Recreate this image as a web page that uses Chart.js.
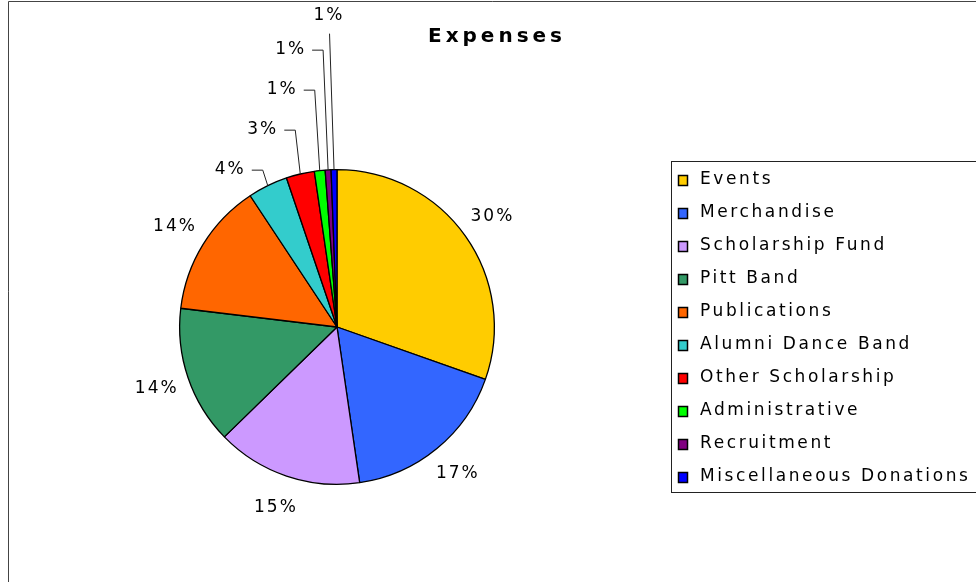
<!DOCTYPE html>
<html>
<head>
<meta charset="utf-8">
<script src="https://cdn.jsdelivr.net/npm/chart.js@4.4.1/dist/chart.umd.min.js"></script>
<style>
  html, body { margin: 0; padding: 0; background: #fff; }
  #wrap { width: 976px; height: 582px; }
</style>
</head>
<body>
<div id="wrap"><canvas id="expenses" width="976" height="582"></canvas></div>
<script>
var categories = ['Events', 'Merchandise', 'Scholarship Fund', 'Pitt Band', 'Publications',
  'Alumni Dance Band', 'Other Scholarship', 'Administrative', 'Recruitment', 'Miscellaneous Donations'];
var shares = [30.4, 17.3, 15.0, 14.2, 13.8, 4.1, 2.9, 1.1, 0.6, 0.6];
var sliceColors = ['#FFCC00', '#3366FF', '#CC99FF', '#339966', '#FF6600',
  '#33CCCC', '#FF0000', '#00FF00', '#800080', '#0000FF'];
var chartTitle = 'Expenses';

var FONT = '"DejaVu Sans", Verdana, sans-serif';

function pctText(i) {
  var total = shares.reduce(function (a, b) { return a + b; }, 0);
  return Math.round(shares[i] / total * 100) + '%';
}

// frame, title, legend box and outside percent labels
var decorations = {
  id: 'decorations',
  afterDraw: function (chart) {
    var ctx = chart.ctx;
    ctx.save();

    // outer frame (only left and top edges show)
    ctx.strokeStyle = '#444';
    ctx.lineWidth = 1;
    ctx.beginPath();
    ctx.moveTo(8.5, 582);
    ctx.lineTo(8.5, 1.5);
    ctx.lineTo(976, 1.5);
    ctx.stroke();

    // title
    ctx.fillStyle = '#000';
    ctx.font = 'bold 20px ' + FONT;
    ctx.letterSpacing = '4px';
    ctx.textAlign = 'center';
    ctx.textBaseline = 'middle';
    ctx.fillText(chartTitle, 497, 37);

    // legend
    ctx.strokeStyle = '#222';
    ctx.strokeRect(671.5, 161.5, 400, 331);
    ctx.font = '17px ' + FONT;
    ctx.letterSpacing = '2.6px';
    ctx.textAlign = 'left';
    for (var i = 0; i < categories.length; i++) {
      var ly = 180 + i * 33;
      ctx.fillStyle = sliceColors[i];
      ctx.fillRect(678, ly - 5, 10, 11);
      ctx.strokeStyle = '#000';
      ctx.lineWidth = 1.5;
      ctx.strokeRect(678.5, ly - 4.5, 9, 10);
      ctx.fillStyle = '#000';
      ctx.fillText(categories[i], 700, ly);
    }

    // percent labels
    var meta = chart.getDatasetMeta(0);
    ctx.font = '17px ' + FONT;
    ctx.letterSpacing = '2px';
    ctx.strokeStyle = '#222';
    ctx.lineWidth = 1;
    meta.data.forEach(function (arc, i) {
      var p = arc.getProps(['x', 'y', 'startAngle', 'endAngle', 'outerRadius'], true);
      var mid = (p.startAngle + p.endAngle) / 2;
      var r = p.outerRadius;
      var ax = p.x + Math.cos(mid) * r;
      var ay = p.y + Math.sin(mid) * r;
      ctx.fillStyle = '#000';
      if (shares[i] >= 10) {
        ctx.textAlign = 'center';
        ctx.fillText(pctText(i), p.x + Math.cos(mid) * (r + 33), p.y + Math.sin(mid) * (r + 33));
        return;
      }
      var k = i - 5;
      var top = p.y - r;
      var ex = ax - 5;
      if (i === categories.length - 1) {
        ctx.textAlign = 'center';
        ctx.fillText(pctText(i), ex, top - k * 39 + 2);
        ctx.beginPath();
        ctx.moveTo(ex + 0.5, top - k * 39 + 20);
        ctx.lineTo(ax, ay);
        ctx.stroke();
        return;
      }
      var ly2 = top - k * 40;
      ctx.textAlign = 'right';
      ctx.fillText(pctText(i), ex - 17, ly2);
      ctx.beginPath();
      ctx.moveTo(ex - 11, ly2 + 0.5);
      ctx.lineTo(ex, ly2 + 0.5);
      ctx.lineTo(ax, ay);
      ctx.stroke();
    });

    ctx.restore();
  }
};

new Chart(document.getElementById('expenses'), {
  type: 'pie',
  data: {
    labels: categories,
    datasets: [{
      data: shares,
      backgroundColor: sliceColors,
      borderColor: '#000',
      borderWidth: 1.3
    }]
  },
  options: {
    responsive: false,
    animation: false,
    layout: {
      padding: { left: 179, right: 481, top: 169, bottom: 97 }
    },
    plugins: {
      legend: { display: false },
      title: { display: false },
      tooltip: { enabled: false }
    }
  },
  plugins: [decorations]
});
</script>
</body>
</html>
